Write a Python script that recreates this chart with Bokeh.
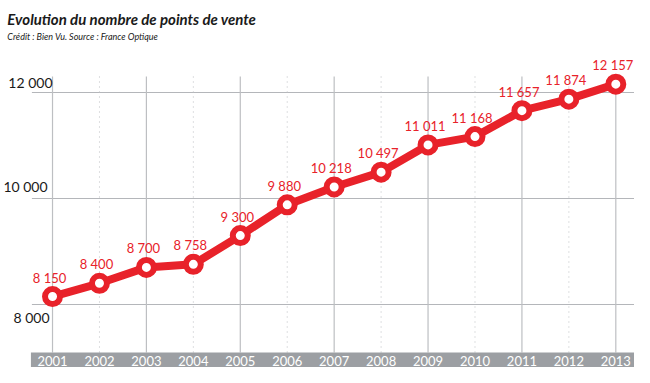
from bokeh.plotting import figure
from bokeh.models import Range1d, Label, ColumnDataSource
from bokeh.core.properties import value
from bokeh.embed import file_html
from bokeh.resources import INLINE

years = [2001, 2002, 2003, 2004, 2005, 2006, 2007, 2008, 2009, 2010, 2011, 2012, 2013]
points = [8150, 8400, 8700, 8758, 9300, 9880, 10218, 10497, 11011, 11168, 11657, 11874, 12157]
point_labels = ["8 150", "8 400", "8 700", "8 758", "9 300", "9 880", "10 218", "10 497",
                "11 011", "11 168", "11 657", "11 874", "12 157"]
y_ticks = [8000, 10000, 12000]
y_tick_labels = ["8 000", "10 000", "12 000"]
year_labels = [str(y) for y in years]

title = "Evolution du nombre de points de vente"
subtitle = "Crédit : Bien Vu. Source : France Optique"

RED = "#E8222A"
GRID = "#B4B6BA"
VGRID = "#BDBFC2"
BAND = "#9C9FA3"
FONT = "Lato"

# layout helpers: reference-image pixel -> data coordinate
PX_PER_YEAR = 47.83
K = (304 - 92) / 4000.0


def px2x(px):
    return 2001 + (px - 53) / PX_PER_YEAR


def py2y(py):
    return 8000 + (304 - py) / K


W, H = 634, 367
SX = W / 646.0
p = figure(width=W, height=H, output_backend="svg", toolbar_location=None,
           x_range=Range1d(px2x(0), px2x(W / SX)), y_range=Range1d(py2y(H), py2y(0)),
           min_border=0)
p.axis.visible = False
p.grid.visible = False
p.outline_line_color = None
p.background_fill_color = "white"

# horizontal grid lines
p.segment(x0=[px2x(32)] * len(y_ticks), x1=[px2x(700)] * len(y_ticks), y0=y_ticks, y1=y_ticks,
          line_color=GRID, line_width=1.2)

# vertical grid lines
top_v = py2y(76)
band_top = py2y(352)
band_bot = py2y(368)
solid = [y for i, y in enumerate(years) if i % 2 == 0]
dotted = [y for i, y in enumerate(years) if i % 2 == 1]
p.segment(x0=solid, x1=solid, y0=[top_v] * len(solid), y1=[band_top] * len(solid),
          line_color=VGRID, line_width=1.2)
p.segment(x0=dotted, x1=dotted, y0=[top_v] * len(dotted), y1=[band_top] * len(dotted),
          line_color=VGRID, line_width=1, line_dash="1 4")

# bottom band with years
p.quad(left=[px2x(31)], right=[px2x(700)], top=[band_top], bottom=[band_bot],
       fill_color=BAND, line_color=None)
p.text(x=years, y=[(band_top + band_bot) / 2] * len(years), text=year_labels,
       text_color="white", text_font=value(FONT), text_font_size="13px",
       text_align="center", text_baseline="middle")

# y tick labels
ysrc = ColumnDataSource(dict(x=[px2x(50), px2x(48), px2x(53)], y=y_ticks, t=y_tick_labels,
                             off=[13, -12, -10]))
p.text(x="x", y="y", text="t", y_offset="off", source=ysrc, text_color="#1A1A1A",
       text_font=value(FONT), text_font_size="14px", text_align="right", text_baseline="middle")

# line + markers
p.line(years, points, line_color=RED, line_width=8)
p.scatter(years, points, size=15, fill_color="white", line_color=RED, line_width=6)

# value labels
p.text(x=years, y=points, text=point_labels, x_offset=-3, y_offset=-19,
       text_color=RED, text_font=value(FONT), text_font_size="13px",
       text_align="center", text_baseline="middle")

# titles
p.add_layout(Label(x=px2x(7), y=py2y(18), text=title, text_font=FONT, text_font_size="15px",
                   text_font_style="bold italic", text_color="#1A1A1A", text_baseline="middle"))
p.add_layout(Label(x=px2x(7), y=py2y(36), text=subtitle, text_font=FONT, text_font_size="9px",
                   text_font_style="italic", text_color="#1A1A1A", text_baseline="middle"))

open("out.html", "w").write(file_html(p, INLINE))
